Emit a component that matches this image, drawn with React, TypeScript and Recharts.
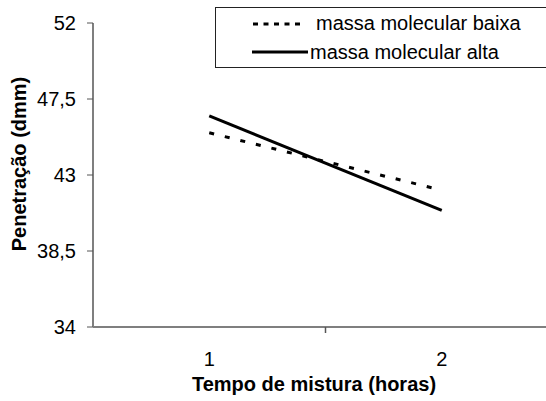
import React from 'react';
import { LineChart, Line, XAxis, YAxis, Legend } from 'recharts';

// tempo de mistura (horas)
const horas = [1, 2];
// penetração (dmm) por série
const baixa = [45.5, 42.1];
const alta = [46.5, 40.9];
const seriesNames = ['massa molecular baixa', 'massa molecular alta'];
const yTicks = [34, 38.5, 43, 47.5, 52];
// 1.5 is only the divider mark between the two categories
const xTicks = [1, 1.5, 2];

const data = horas.map((h, i) => ({ horas: h, baixa: baixa[i], alta: alta[i] }));

const FONT = "'Liberation Sans', Arial, sans-serif";

const XTick = (props: any) => {
  const { x, y, payload } = props;
  if (payload.value === 1.5) {
    return <line x1={x} x2={x} y1={y} y2={y + 6} stroke="#555" strokeWidth={1.5} />;
  }
  return (
    <text x={x} y={y + 32} dy="0.36em" textAnchor="middle" fill="#000" fontSize={20} fontFamily={FONT}>
      {payload.value}
    </text>
  );
};

const YTitle = (props: any) => {
  const vb = props.viewBox;
  const cx = 18.5;
  const cy = vb.y + vb.height / 2 - 11;
  return (
    <text
      x={cx}
      y={cy}
      dy="0.36em"
      transform={`rotate(-90, ${cx}, ${cy})`}
      textAnchor="middle"
      fontSize={20}
      fontWeight="bold"
      fontFamily={FONT}
      fill="#000"
    >
      Penetração (dmm)
    </text>
  );
};

const XTitle = (props: any) => {
  const vb = props.viewBox;
  return (
    <text
      x={vb.x + vb.width / 2 - 11.5}
      y={384}
      dy="0.36em"
      textAnchor="middle"
      fontSize={20}
      fontWeight="bold"
      fontFamily={FONT}
      fill="#000"
    >
      Tempo de mistura (horas)
    </text>
  );
};

const renderLegend = (props: any) => {
  const items = [...(props.payload || [])].sort(
    (a: any, b: any) => seriesNames.indexOf(a.value) - seriesNames.indexOf(b.value)
  );
  return (
    <div
      style={{
        boxSizing: 'border-box',
        width: 345,
        height: 61,
        border: '1px solid #222',
        background: '#fff',
        paddingTop: 1,
        fontFamily: FONT,
        fontSize: 20,
        color: '#000',
      }}
    >
      {items.map((entry: any) => {
        const dashed = entry.dataKey === 'baixa';
        return (
          <div key={entry.dataKey} style={{ position: 'relative', height: 28.5 }}>
            <svg width={60} height={6} style={{ position: 'absolute', left: 36, top: 11.5 }}>
              <line
                x1={dashed ? 1 : 0}
                x2={dashed ? 53 : 56}
                y1={3}
                y2={3}
                stroke="#000"
                strokeWidth={3}
                strokeDasharray={dashed ? '5 5.5' : undefined}
              />
            </svg>
            <span
              style={{
                position: 'absolute',
                left: dashed ? 100 : 94,
                top: 0,
                lineHeight: '28.5px',
                whiteSpace: 'nowrap',
              }}
            >
              {entry.value}
            </span>
          </div>
        );
      })}
    </div>
  );
};

export default function App() {
  return (
    <div
      style={{
        position: 'absolute',
        left: 0,
        top: 0,
        width: 546,
        height: 401,
        overflow: 'hidden',
        background: '#fff',
      }}
    >
      <LineChart width={560} height={401} data={data} margin={{ top: 23, right: 2, bottom: 0, left: 0 }}>
        <XAxis
          type="number"
          dataKey="horas"
          domain={[0.5, 2.5]}
          ticks={xTicks}
          interval={0}
          tickSize={0}
          tickMargin={0}
          tickLine={false}
          tick={<XTick />}
          axisLine={{ stroke: '#555', strokeWidth: 1.5 }}
          height={74}
          label={<XTitle />}
        />
        <YAxis
          type="number"
          domain={[34, 52]}
          ticks={yTicks}
          interval={0}
          width={93}
          tickSize={6}
          tickMargin={11}
          tickFormatter={(v: number) => String(v).replace('.', ',')}
          tick={{ fill: '#000', fontSize: 20, fontFamily: FONT }}
          tickLine={{ stroke: '#555', strokeWidth: 1 }}
          axisLine={{ stroke: '#7f7f7f', strokeWidth: 2 }}
          label={<YTitle />}
        />
        <Legend
          layout="horizontal"
          verticalAlign="middle"
          align="center"
          content={renderLegend}
          wrapperStyle={{ position: 'absolute', left: 215, top: 7, width: 345, height: 61 }}
        />
        <Line
          type="linear"
          dataKey="baixa"
          name={seriesNames[0]}
          stroke="#000"
          strokeWidth={3}
          strokeDasharray="5 11"
          dot={false}
          isAnimationActive={false}
        />
        <Line
          type="linear"
          dataKey="alta"
          name={seriesNames[1]}
          stroke="#000"
          strokeWidth={3}
          dot={false}
          isAnimationActive={false}
        />
      </LineChart>
    </div>
  );
}
